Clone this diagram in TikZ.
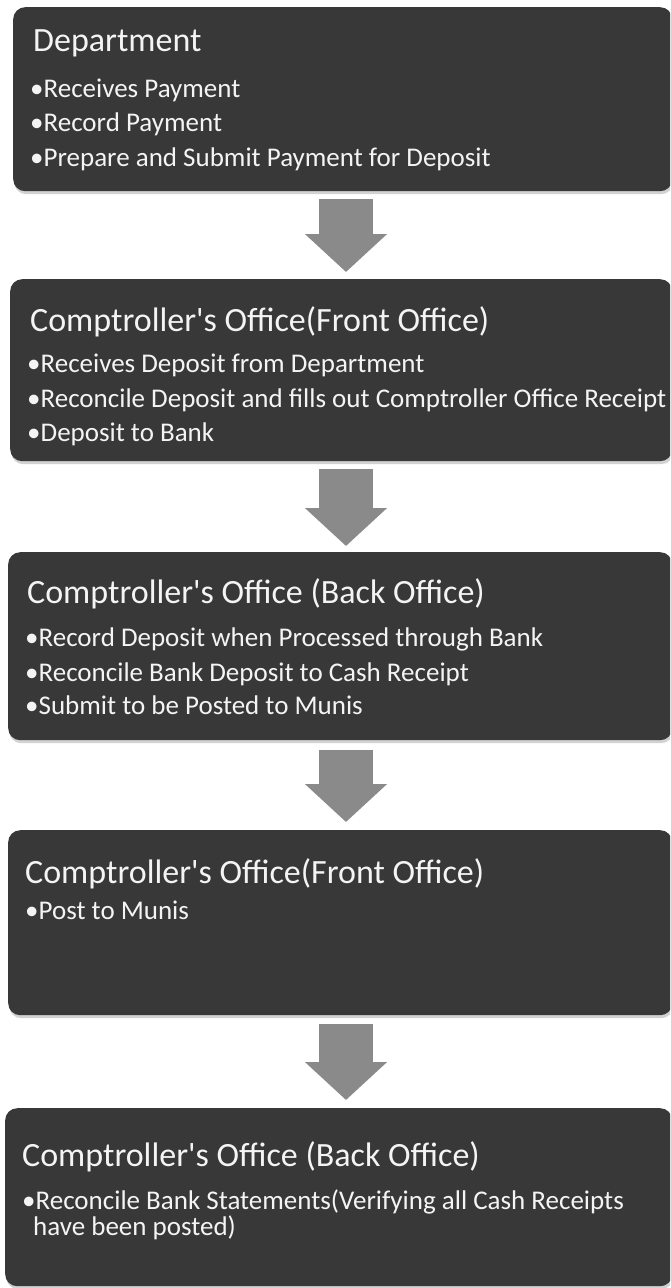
\documentclass[tikz,border=0pt]{standalone}
\usepackage{fontspec}
\setmainfont{Carlito}
\usetikzlibrary{arrows.meta,calc,shadows}
\definecolor{boxgray}{RGB}{56,56,56}
\definecolor{arrowgray}{RGB}{138,138,138}
\definecolor{txt}{RGB}{244,244,244}
\newcommand{\apos}{\textquotesingle}
\tikzset{
  stagebox/.style={draw=none, fill=boxgray, rounded corners=12pt, anchor=north west,
    drop shadow={opacity=0.35, shadow xshift=1pt, shadow yshift=-3pt}},
  heading/.style={anchor=base west, inner sep=0pt, text=txt, font=\fontsize{34}{40}\selectfont},
  item/.style={anchor=base west, inner sep=0pt, text=txt, font=\fontsize{27}{32}\selectfont},
  flowarrow/.style={draw=arrowgray, line width=54pt, -{Triangle[width=80pt,length=38pt]}},
}
\begin{document}
\begin{tikzpicture}[x=1pt,y=-1pt]
\useasboundingbox (0,0) rectangle (670,1288);
\fill[white] (0,0) rectangle (670,1288);
\clip (0,0) rectangle (670,1288);
\coordinate (ax) at (346,0);
% boxes
\node[stagebox, minimum width=659pt, minimum height=184pt] (b1) at (13,7) {};
\node[stagebox, minimum width=662pt, minimum height=182pt] (b2) at (10,279) {};
\node[stagebox, minimum width=664pt, minimum height=188pt] (b3) at (8,552) {};
\node[stagebox, minimum width=664pt, minimum height=185pt] (b4) at (8,830) {};
\node[stagebox, minimum width=667pt, minimum height=178pt] (b5) at (5,1108) {};
% arrows
\draw[flowarrow] ($(b1.south -| ax)+(0,8)$) -- ($(b2.north -| ax)+(0,-7)$);
\draw[flowarrow] ($(b2.south -| ax)+(0,8)$) -- ($(b3.north -| ax)+(0,-6)$);
\draw[flowarrow] ($(b3.south -| ax)+(0,10)$) -- ($(b4.north -| ax)+(0,-8)$);
\draw[flowarrow] ($(b4.south -| ax)+(0,9)$) -- ($(b5.north -| ax)+(0,-8)$);
% box 1
\node[heading] (t1) at (33,51) {Department};
\node[item] (t1a) at (30,97) {•Receives Payment};
\node[item] (t1b) at (30,131) {•Record Payment};
\node[item] (t1c) at (30,166) {•Prepare and Submit Payment for Deposit};
% box 2
\node[heading] (t2) at (30,331) {Comptroller\apos s Office(Front Office)};
\node[item] (t2a) at (27,372) {•Receives Deposit from Department};
\node[item] (t2b) at (27,407) {•Reconcile Deposit and fills out Comptroller Office Receipt};
\node[item] (t2c) at (27,441) {•Deposit to Bank};
% box 3
\node[heading] (t3) at (27,603) {Comptroller\apos s Office (Back Office)};
\node[item] (t3a) at (25,646) {•Record Deposit when Processed through Bank};
\node[item] (t3b) at (25,681) {•Reconcile Bank Deposit to Cash Receipt};
\node[item] (t3c) at (25,714) {•Submit to be Posted to Munis};
% box 4
\node[heading] (t4) at (25,883) {Comptroller\apos s Office(Front Office)};
\node[item] (t4a) at (25,919) {•Post to Munis};
% box 5
\node[heading] (t5) at (22,1166) {Comptroller\apos s Office (Back Office)};
\node[item] (t5a) at (22,1209) {•Reconcile Bank Statements(Verifying all Cash Receipts};
\node[item] (t5b) at (33,1235) {have been posted)};
\end{tikzpicture}
\end{document}
